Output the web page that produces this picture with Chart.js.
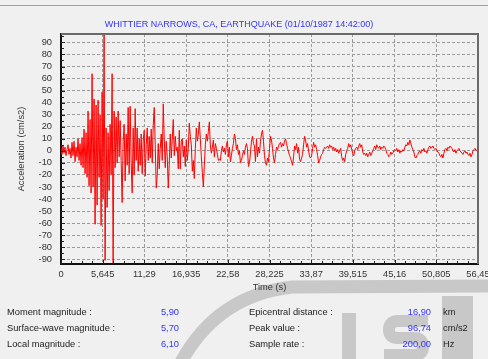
<!DOCTYPE html>
<html>
<head>
<meta charset="utf-8">
<script src="https://cdn.jsdelivr.net/npm/chart.js@4.4.1/dist/chart.umd.min.js"></script>
<style>
  html, body { margin: 0; padding: 0; background: #f0f0f0; }
  #wrap { position: relative; width: 488px; height: 359px; overflow: hidden; }
  #topline { position: absolute; left: 0; top: 5px; width: 488px; height: 1px; background: #a0a0a0; }
  #chart { position: absolute; left: 0; top: 0; }
  .info { position: absolute; font: 9.3px "Liberation Sans", Arial, sans-serif; color: #222; white-space: nowrap; line-height: 12px; }
  .val { color: #3333ff; text-align: right; }
</style>
</head>
<body>
<div id="wrap">
  <canvas id="chart" width="488" height="359"></canvas>
  <div id="topline"></div>
  <div id="info"></div>
</div>
<script>
// record header
const quakeTitle = "WHITTIER NARROWS, CA, EARTHQUAKE (01/10/1987 14:42:00)";

// acceleration samples (cm/s2), one every sampleInterval seconds
const sampleInterval = 0.1357;
const accel = [
  2, -3, 4, -2, 3, -4, 1, 5, -3, 2,
  -6, 7, -4, 8, -9, 3, -5, 10, -8, 6,
  -12, 11, -14, 18, -19, 15, -22, 33, -29, 26,
  -35, 64, -30, 43, -61, 38, -45, 42, -22, 30,
  -62, 49, -40, 96.74, -91, 19, -47, 15, -33, 22,
  -20, 64, -93, 33, -14, 28, -10, 33, -5, 25,
  -8, -43, 8, 22, -25, 14, -12, 36, -19, 37,
  -10, -35, 19, -20, 35, -8, 19, -17, 10, -12,
  14, -19, 8, 17, -21, 5, 19, -8, 12, -6,
  18, -10, 21, 36, 5, -31, -20, 6, -15, 2,
  14, -8, 39, 10, -14, 8, -5, -31, -10, 14,
  -6, 10, 26, -4, 12, 0, 3, -15, 17, -15,
  8, 10, -5, 4, -13, 9, -8, 2, 23, 12,
  5, -17, -8, -23, 2, 19, 8, 14, 24, 10,
  -5, -18, -30, -12, 5, 14, 8, 16, 24, 4,
  -2, 3, 9, -5, 6, 2, -3, -8, -7, -8,
  0, 4, -1, 2, -3, 5, 8, -5, 3, -9,
  -4, 2, 6, 14, 10, 1, 5, -3, 0, -10,
  -8, -4, 0, -3, 3, 6, 2, -13, -10, -2,
  8, 12, 6, 4, -9, 10, -5, 3, -2, 8,
  14, 17, 8, -4, -10, -12, -6, -9, 2, 12,
  9, 2, -6, -10, -3, 3, 1, 4, 6, 7,
  3, 6, 4, 8, 10, 6, 2, -1, -4, -6,
  -9, -12, -5, 4, 1, 6, -2, 3, -7, -9,
  -6, -3, 5, 12, 9, 3, 6, 0, -5, -6,
  -4, 2, 7, 3, 5, 1, -4, -10, -8, -5,
  -3, -2, 1, 3, 2, 3, 4, 2, 5, 3,
  4, 1, 3, 0, 2, -1, 1, -2, 0, 2,
  -5, -8, -6, -9, -3, 0, 2, 6, 3, 5,
  1, -2, -4, 0, 2, 3, 1, 4, 6, 3,
  5, -1, -3, -2, -4, -2, -5, -3, -1, -4,
  -2, 0, 2, 4, 1, 5, 3, 2, 4, 1,
  3, 2, 4, 3, 1, -2, -3, -5, -4, -1,
  -3, -2, 0, 1, 0, 2, -1, 1, -2, 0,
  -1, 1, 0, 3, 5, 4, 7, 5, 9, 6,
  3, 1, -1, -5, -6, -4, -3, -1, 0, -2,
  1, 0, 2, -1, 0, -2, 1, 3, 4, 2,
  3, 4, 2, 1, 2, 0, -1, -2, -4, -5,
  -3, -6, -2, 1, 2, 0, 3, 2, 4, 3,
  2, 0, -1, 1, -2, 0, 1, 2, 0, -1,
  -2, -3, -1, 0, -2, -1, -3, -4, -2, -5,
  -3, 0, 1, 2, 0, 1, 2
];

// axes
const xTickValues = [0, 5.645, 11.29, 16.935, 22.58, 28.225, 33.87, 39.515, 45.16, 50.805, 56.45];
const xTickLabels = ["0", "5,645", "11,29", "16,935", "22,58", "28,225", "33,87", "39,515", "45,16", "50,805", "56,45"];
const yTickValues = [-90, -80, -70, -60, -50, -40, -30, -20, -10, 0, 10, 20, 30, 40, 50, 60, 70, 80, 90];
const xAxisTitle = "Time (s)";
const yAxisTitle = "Acceleration (cm/s2)";

// summary rows under the chart
const leftLabels = ["Moment magnitude :", "Surface-wave magnitude :", "Local magnitude :"];
const leftValues = ["5,90", "5,70", "6,10"];
const rightLabels = ["Epicentral distance :", "Peak value :", "Sample rate :"];
const rightValues = ["16,90", "96,74", "200,00"];
const rightUnits = ["km", "cm/s2", "Hz"];

const FONT = "'Liberation Sans', Arial, sans-serif";

// info block
const info = document.getElementById("info");
const rowTops = [306, 322, 338];
function addText(txt, css, cls) {
    const d = document.createElement("div");
    d.className = "info" + (cls ? " " + cls : "");
    d.textContent = txt;
    d.style.cssText = css;
    info.appendChild(d);
}
rowTops.forEach((top, i) => {
    addText(leftLabels[i], "left:7px;top:" + top + "px;");
    addText(leftValues[i], "right:309px;top:" + top + "px;", "val");
    addText(rightLabels[i], "left:249px;top:" + top + "px;");
    addText(rightValues[i], "right:57px;top:" + top + "px;", "val");
    addText(rightUnits[i], "left:443px;top:" + top + "px;");
});

// faint watermark behind everything + frame + small ticks
const decorations = {
    id: "decorations",
    beforeDraw(chart) {
        const ctx = chart.ctx;
        ctx.save();
        ctx.strokeStyle = "#c8c8c8";
        ctx.fillStyle = "#c8c8c8";
        ctx.lineWidth = 13;
        ctx.beginPath();
        ctx.moveTo(176, 372);
        ctx.quadraticCurveTo(212, 296, 292, 287);
        ctx.lineTo(492, 286);
        ctx.stroke();
        // letter shapes
        ctx.fillRect(342, 313, 14, 50);
        ctx.lineWidth = 12;
        ctx.beginPath();
        ctx.moveTo(428, 321);
        ctx.lineTo(398, 321);
        ctx.quadraticCurveTo(389, 321, 389, 330);
        ctx.quadraticCurveTo(389, 338, 398, 338);
        ctx.lineTo(414, 338);
        ctx.quadraticCurveTo(423, 338, 423, 347);
        ctx.quadraticCurveTo(423, 355, 414, 355);
        ctx.lineTo(384, 355);
        ctx.stroke();
        ctx.fillRect(442, 296, 31, 66);
        ctx.restore();
    },
    afterDraw(chart) {
        const ctx = chart.ctx;
        const a = chart.chartArea;
        const xs = chart.scales.x, ys = chart.scales.y;
        ctx.save();
        ctx.strokeStyle = "#6a6a6a";
        ctx.lineWidth = 2;
        ctx.beginPath();
        ctx.moveTo(a.left, a.top);
        ctx.lineTo(a.right, a.top);
        ctx.lineTo(a.right, a.bottom);
        ctx.stroke();
        ctx.strokeStyle = "#222";
        ctx.lineWidth = 1;
        ctx.beginPath();
        for (let i = 0; i < xTickValues.length - 1; i++) {
            const step = (xTickValues[i + 1] - xTickValues[i]) / 4;
            for (let k = 0; k < 4; k++) {
                const px = Math.round(xs.getPixelForValue(xTickValues[i] + k * step)) + 0.5;
                ctx.moveTo(px, a.bottom);
                ctx.lineTo(px, a.bottom - (k === 0 ? 4 : 3));
            }
        }
        for (let v = -90; v <= 95; v += 5) {
            const py = Math.round(ys.getPixelForValue(v)) + 0.5;
            ctx.moveTo(a.left, py);
            ctx.lineTo(a.left + (v % 10 === 0 ? 4 : 3), py);
        }
        ctx.stroke();
        ctx.restore();
    }
};

const points = accel.map((v, i) => ({ x: i * sampleInterval, y: v }));

new Chart(document.getElementById("chart"), {
    type: "line",
    data: {
        datasets: [{
            data: points,
            borderColor: "#ff0000",
            borderWidth: 1,
            pointRadius: 0,
            tension: 0,
            fill: false
        }]
    },
    options: {
        responsive: false,
        animation: false,
        layout: { padding: { left: 0, right: 10, top: 0, bottom: 0 } },
        plugins: {
            legend: { display: false },
            tooltip: { enabled: false },
            title: {
                display: true,
                text: quakeTitle,
                color: "#3333ff",
                font: { family: FONT, size: 9, weight: "normal" },
                padding: { top: 18.8, bottom: 4.4 }
            }
        },
        scales: {
            x: {
                type: "linear",
                min: 0,
                max: 56.45,
                afterBuildTicks: (s) => { s.ticks = xTickValues.map(v => ({ value: v })); },
                afterFit: (s) => { s.height = 95; s.paddingRight = 0; s.paddingLeft = 0; },
                ticks: {
                    autoSkip: false,
                    maxRotation: 0,
                    padding: 5,
                    color: "#333",
                    font: { family: FONT, size: 9.3 },
                    callback: (v, i) => xTickLabels[i]
                },
                grid: { color: "#9a9a9a", lineWidth: 1, drawTicks: false },
                border: { color: "#111", width: 2, dash: [3, 2] },
                title: {
                    display: true,
                    text: xAxisTitle,
                    color: "#333",
                    font: { family: FONT, size: 9.3 },
                    padding: { top: 0, bottom: 66 }
                }
            },
            y: {
                min: -94,
                max: 97,
                afterBuildTicks: (s) => { s.ticks = yTickValues.map(v => ({ value: v })); },
                afterFit: (s) => { s.width = 61; },
                ticks: {
                    autoSkip: false,
                    padding: 9,
                    color: "#333",
                    font: { family: FONT, size: 9.3 },
                    callback: (v) => String(v)
                },
                grid: { color: "#9a9a9a", lineWidth: 1, drawTicks: false },
                border: { color: "#111", width: 2, dash: [3, 2] },
                title: {
                    display: true,
                    text: yAxisTitle,
                    color: "#333",
                    font: { family: FONT, size: 9.3 },
                    padding: { top: 16, bottom: 0 }
                }
            }
        }
    },
    plugins: [decorations]
});
</script>
</body>
</html>
